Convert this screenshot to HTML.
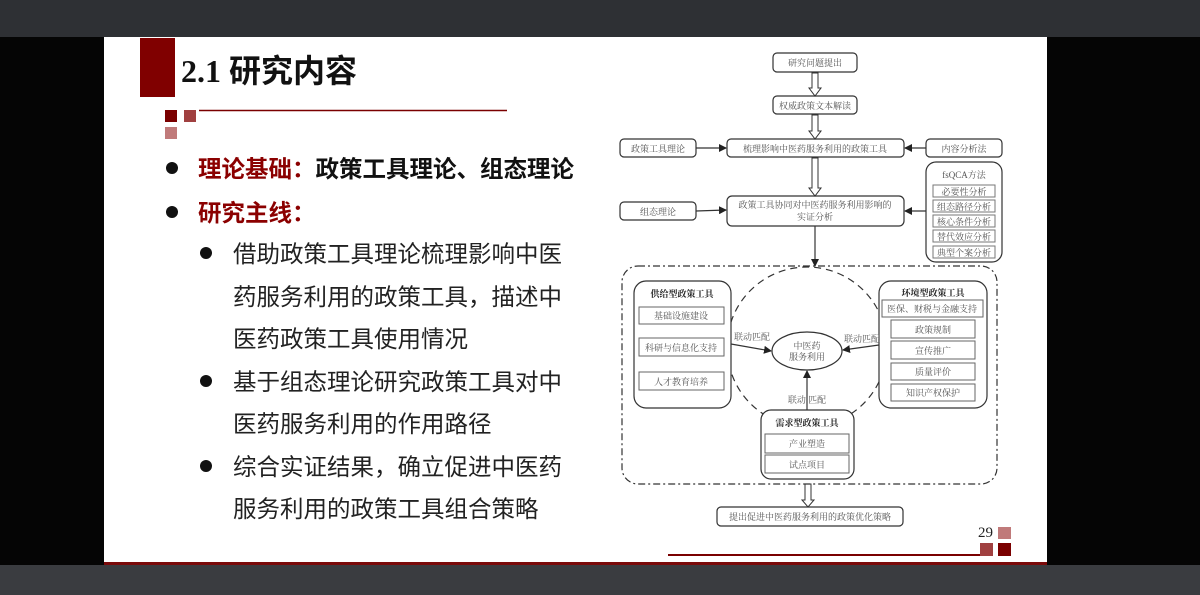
<!DOCTYPE html>
<html><head><meta charset="utf-8"><style>
html,body{margin:0;padding:0;width:1200px;height:595px;overflow:hidden;background:#000;}
svg{display:block}
</style></head><body>
<svg width="1200" height="595" xmlns="http://www.w3.org/2000/svg" font-family="'Liberation Serif','Noto Serif CJK SC',serif">
<defs>
<marker id="ah" markerWidth="8" markerHeight="8" refX="7" refY="4" orient="auto" markerUnits="userSpaceOnUse"><path d="M0,0 L8,4 L0,8 z" fill="#222"/></marker>
</defs>
<rect x="0" y="0" width="1200" height="37" fill="#2e3034"/>
<rect x="0" y="565" width="1200" height="30" fill="#3a3c40"/>
<rect x="0" y="37" width="104" height="528" fill="#050505"/>
<rect x="1047" y="37" width="153" height="528" fill="#050505"/>
<rect x="104" y="37" width="943" height="528" fill="#fff"/>
<rect x="104" y="562" width="943" height="3" fill="#7a0a0a"/>
<!-- title -->
<rect x="140" y="38" width="35" height="59" fill="#800000"/>
<text x="181" y="82" font-family="'Liberation Serif','Noto Sans CJK SC',sans-serif" font-weight="bold" font-size="32" fill="#111">2.1 研究内容</text>
<rect x="165" y="110" width="12" height="12" fill="#7a0000"/>
<rect x="184" y="110" width="12" height="12" fill="#a04040"/>
<rect x="165" y="127" width="12" height="12" fill="#c07a7a"/>
<line x1="199" y1="110.5" x2="507" y2="110.5" stroke="#7a0000" stroke-width="1.5"/>
<!-- bullets -->
<g font-family="'Liberation Sans','Noto Sans CJK SC',sans-serif">
<circle cx="172" cy="168" r="6" fill="#111"/>
<circle cx="172" cy="212" r="6" fill="#111"/>
<text x="198" y="177" font-size="23.5" font-weight="bold"><tspan fill="#8b0000">理论基础：</tspan><tspan fill="#111">政策工具理论、组态理论</tspan></text>
<text x="198" y="221" font-size="23.5" font-weight="bold" fill="#8b0000">研究主线：</text>
<circle cx="206" cy="253" r="6" fill="#111"/>
<circle cx="206" cy="381" r="6" fill="#111"/>
<circle cx="206" cy="466" r="6" fill="#111"/>
<g font-size="23.5" fill="#222">
<text x="233" y="262">借助政策工具理论梳理影响中医</text>
<text x="233" y="305">药服务利用的政策工具，描述中</text>
<text x="233" y="347">医药政策工具使用情况</text>
<text x="233" y="390">基于组态理论研究政策工具对中</text>
<text x="233" y="432">医药服务利用的作用路径</text>
<text x="233" y="475">综合实证结果，确立促进中医药</text>
<text x="233" y="517">服务利用的政策工具组合策略</text>
</g>
</g>
<!-- page number -->
<text x="978" y="537" font-size="15" fill="#222">29</text>
<rect x="998" y="527" width="13" height="12" fill="#c07a7a"/>
<rect x="980" y="543" width="13" height="13" fill="#a04040"/>
<rect x="998" y="543" width="13" height="13" fill="#7a0000"/>
<line x1="668" y1="555" x2="980" y2="555" stroke="#7a0000" stroke-width="2"/>
<!-- diagram -->
<g stroke="#333" stroke-width="1.2" fill="#fff" font-size="9" >
<rect x="773" y="53" width="84" height="19" rx="4"/>
<rect x="773" y="96" width="84" height="18" rx="4"/>
<rect x="620" y="139" width="76" height="18" rx="4"/>
<rect x="727" y="139" width="177" height="18" rx="4"/>
<rect x="926" y="139" width="76" height="18" rx="4"/>
<rect x="620" y="202" width="76" height="18" rx="4"/>
<rect x="727" y="196" width="177" height="30" rx="5"/>
<rect x="926" y="162" width="76" height="100" rx="10"/>
<g stroke="#777" stroke-width="1">
<rect x="933" y="185" width="62" height="12"/>
<rect x="933" y="200" width="62" height="12"/>
<rect x="933" y="215" width="62" height="12"/>
<rect x="933" y="230" width="62" height="12"/>
<rect x="933" y="246" width="62" height="12"/>
</g>
<g fill="#fff" stroke="#333" stroke-width="1">
<path d="M812,73 V88 H809 L815,96 L821,88 H818 V73 Z"/>
<path d="M812,115 V131 H809 L815,139 L821,131 H818 V115 Z"/>
<path d="M812,158 V188 H809 L815,196 L821,188 H818 V158 Z"/>
<path d="M805,484 V500 H802 L808,507 L814,500 H811 V484 Z"/>
</g>
<line x1="696" y1="148" x2="726" y2="148" marker-end="url(#ah)"/>
<line x1="926" y1="148" x2="905" y2="148" marker-end="url(#ah)"/>
<line x1="696" y1="211" x2="726" y2="210" marker-end="url(#ah)"/>
<line x1="926" y1="211" x2="905" y2="211" marker-end="url(#ah)"/>
<line x1="815" y1="226" x2="815" y2="266" marker-end="url(#ah)"/>
<rect x="622" y="266" width="375" height="218" rx="16" fill="none" stroke-dasharray="7,3,2,3"/>
<circle cx="807" cy="347" r="80" fill="none" stroke-dasharray="7,5"/>
<rect x="634" y="281" width="97" height="127" rx="12"/>
<rect x="879" y="281" width="108" height="127" rx="12"/>
<rect x="761" y="410" width="93" height="69" rx="10"/>
<ellipse cx="807" cy="351" rx="35" ry="19"/>
<g stroke="#666" stroke-width="1">
<rect x="639" y="307" width="85" height="17"/>
<rect x="639" y="338" width="85" height="18"/>
<rect x="639" y="372" width="85" height="18"/>
<rect x="882" y="300" width="101" height="17"/>
<rect x="891" y="320" width="84" height="18"/>
<rect x="891" y="341" width="84" height="18"/>
<rect x="891" y="363" width="84" height="17"/>
<rect x="891" y="384" width="84" height="17"/>
<rect x="765" y="434" width="84" height="19"/>
<rect x="765" y="455" width="84" height="18"/>
</g>
<line x1="731" y1="344" x2="771" y2="351" marker-end="url(#ah)"/>
<line x1="879" y1="345" x2="843" y2="350" marker-end="url(#ah)"/>
<line x1="807" y1="410" x2="807" y2="371" marker-end="url(#ah)"/>
<rect x="717" y="507" width="186" height="19" rx="4"/>
</g>
<g font-size="9" fill="#555" text-anchor="middle" font-family="'Liberation Serif','Noto Serif CJK SC',serif">
<text x="815" y="66">研究问题提出</text>
<text x="815" y="109">权威政策文本解读</text>
<text x="658" y="152">政策工具理论</text>
<text x="815" y="152">梳理影响中医药服务利用的政策工具</text>
<text x="964" y="152">内容分析法</text>
<text x="658" y="215">组态理论</text>
<text x="815" y="208">政策工具协同对中医药服务利用影响的</text>
<text x="815" y="220">实证分析</text>
<text x="964" y="178">fsQCA方法</text>
<text x="964" y="195">必要性分析</text>
<text x="964" y="210">组态路径分析</text>
<text x="964" y="225">核心条件分析</text>
<text x="964" y="240">替代效应分析</text>
<text x="964" y="256">典型个案分析</text>
<text x="682" y="297" fill="#222" font-weight="bold">供给型政策工具</text>
<text x="681" y="319">基础设施建设</text>
<text x="681" y="351">科研与信息化支持</text>
<text x="681" y="385">人才教育培养</text>
<text x="933" y="296" fill="#222" font-weight="bold">环境型政策工具</text>
<text x="932" y="312">医保、财税与金融支持</text>
<text x="933" y="333">政策规制</text>
<text x="933" y="354">宣传推广</text>
<text x="933" y="375">质量评价</text>
<text x="933" y="396">知识产权保护</text>
<text x="807" y="426" fill="#222" font-weight="bold">需求型政策工具</text>
<text x="807" y="447">产业塑造</text>
<text x="807" y="468">试点项目</text>
<text x="807" y="349">中医药</text>
<text x="807" y="360">服务利用</text>
<text x="752" y="340">联动匹配</text>
<text x="862" y="342">联动匹配</text>
<text x="807" y="403">联动 匹配</text>
<text x="810" y="520">提出促进中医药服务利用的政策优化策略</text>
</g>
</svg>
</body></html>
